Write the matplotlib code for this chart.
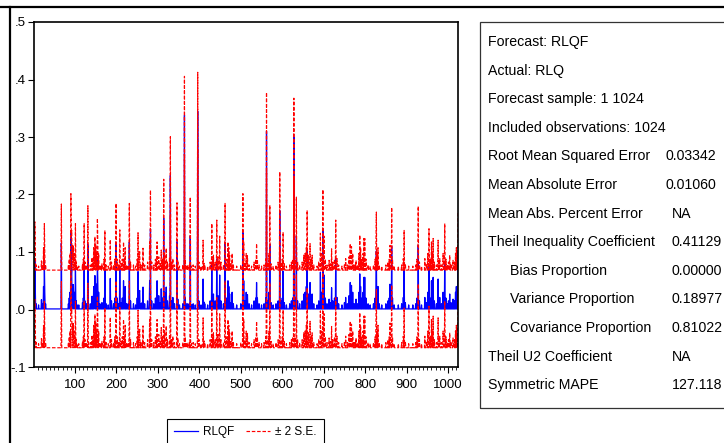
import numpy as np
import matplotlib
matplotlib.use('Agg')
import matplotlib.pyplot as plt
from matplotlib.lines import Line2D
from matplotlib.patches import Rectangle

plt.rcParams['font.family'] = ['Liberation Sans', 'DejaVu Sans']

# forecast series RLQF: flat level with spikes at these observations
n_obs = 1024
base_level = 0.001
spike_obs = [
    3, 4, 6, 12, 19, 22, 24, 26, 27, 29, 67,
    84, 86, 88, 90, 91, 92, 94, 95, 96, 98, 99, 101, 103, 105,
    109, 118, 120, 122, 124, 127, 131, 133,
    138, 141, 143, 145, 147, 148, 150, 152, 154, 155, 157, 160, 163,
    165, 170, 172, 175, 180, 185, 188, 193, 196, 199, 202, 205, 208, 211,
    214, 217, 219, 221, 224, 228, 231, 234, 241, 246, 250, 252, 255, 258,
    256, 262, 264, 268, 275, 280, 282, 285, 290, 294, 296, 298, 302, 305,
    308, 311, 314, 316, 320, 323, 328, 330, 333, 336, 340, 346, 348, 352,
    360, 364, 366, 368, 372, 376, 378, 381, 385, 390, 396, 399, 404, 409,
    411, 413, 420, 426, 430, 432, 434, 438, 442, 445, 449, 452, 458, 462,
    466, 469, 471, 473, 476, 479, 482, 490, 500, 505, 507, 510, 513, 516,
    520, 526, 532, 536, 538, 540, 544, 550, 556, 560, 562, 565, 568, 570,
    573, 578, 585, 590, 594, 597, 600, 602, 605, 610, 618, 622, 625, 628,
    631, 634, 637, 642, 648, 652, 655, 658, 660, 663, 667, 670, 672, 676,
    684, 688, 692, 695, 698, 701, 704, 708, 713, 716, 719, 722, 726, 729,
    732, 736, 744, 750, 753, 757, 761, 764, 767, 770, 773, 776, 778, 782,
    785, 787, 789, 792, 795, 797, 799, 802, 807, 812, 820, 824, 826, 827,
    829, 831, 834, 840, 850, 855, 858, 860, 864, 866, 870, 880, 888, 892,
    894, 897, 905, 915, 922, 925, 928, 931, 936, 944, 948, 951, 954, 957,
    960, 962, 964, 967, 972, 976, 978, 980, 984, 988, 992, 995, 998, 1001,
    1004, 1007, 1012, 1016, 1018, 1020, 1022, 1024,
]
spike_val = [
    0.085, 0.040, 0.010, 0.008, 0.017, 0.010, 0.040, 0.082, 0.030, 0.010, 0.116,
    0.010, 0.020, 0.030, 0.134, 0.060, 0.070, 0.043, 0.020, 0.043, 0.030, 0.012, 0.082, 0.015, 0.008,
    0.008, 0.012, 0.020, 0.082, 0.015, 0.010, 0.113, 0.010,
    0.010, 0.023, 0.015, 0.040, 0.020, 0.059, 0.045, 0.030, 0.091, 0.040, 0.030, 0.010, 0.008,
    0.012, 0.020, 0.070, 0.010, 0.008, 0.054, 0.015, 0.010, 0.020, 0.117, 0.020, 0.010, 0.071, 0.012,
    0.020, 0.050, 0.020, 0.040, 0.010, 0.010, 0.117, 0.015, 0.010, 0.008, 0.020, 0.066, 0.030, 0.010,
    0.033, 0.012, 0.039, 0.010, 0.015, 0.050, 0.140, 0.015, 0.010, 0.020, 0.018, 0.050, 0.024, 0.012,
    0.036, 0.020, 0.159, 0.030, 0.039, 0.015, 0.024, 0.233, 0.015, 0.021, 0.010, 0.118, 0.018, 0.008,
    0.010, 0.338, 0.020, 0.010, 0.010, 0.010, 0.128, 0.008, 0.010, 0.008, 0.345, 0.015, 0.008, 0.053,
    0.013, 0.010, 0.008, 0.015, 0.082, 0.020, 0.027, 0.015, 0.088, 0.024, 0.060, 0.015, 0.010, 0.117,
    0.020, 0.050, 0.040, 0.027, 0.012, 0.030, 0.010, 0.008, 0.010, 0.134, 0.050, 0.015, 0.030, 0.026,
    0.010, 0.008, 0.015, 0.020, 0.047, 0.020, 0.010, 0.008, 0.010, 0.020, 0.310, 0.015, 0.030, 0.114,
    0.012, 0.008, 0.010, 0.015, 0.172, 0.015, 0.020, 0.067, 0.012, 0.008, 0.010, 0.015, 0.020, 0.300,
    0.020, 0.128, 0.015, 0.010, 0.015, 0.027, 0.030, 0.040, 0.105, 0.027, 0.047, 0.020, 0.027, 0.010,
    0.008, 0.015, 0.065, 0.030, 0.141, 0.060, 0.020, 0.010, 0.018, 0.012, 0.038, 0.015, 0.020, 0.088,
    0.021, 0.010, 0.008, 0.012, 0.021, 0.010, 0.024, 0.047, 0.042, 0.030, 0.010, 0.010, 0.018, 0.010,
    0.030, 0.062, 0.040, 0.020, 0.030, 0.056, 0.056, 0.020, 0.010, 0.008, 0.010, 0.020, 0.042, 0.102,
    0.030, 0.040, 0.010, 0.008, 0.010, 0.015, 0.020, 0.044, 0.110, 0.020, 0.008, 0.008, 0.010, 0.021,
    0.070, 0.012, 0.008, 0.008, 0.010, 0.020, 0.112, 0.015, 0.008, 0.021, 0.012, 0.030, 0.073, 0.020,
    0.050, 0.030, 0.056, 0.015, 0.010, 0.053, 0.020, 0.021, 0.010, 0.030, 0.082, 0.020, 0.010, 0.015,
    0.027, 0.012, 0.018, 0.015, 0.030, 0.040, 0.020, 0.100,
]
two_se = 0.0675  # 2 x forecast standard error

stat_labels = [
    'Forecast: RLQF', 'Actual: RLQ', 'Forecast sample: 1 1024',
    'Included observations: 1024', 'Root Mean Squared Error',
    'Mean Absolute Error', 'Mean Abs. Percent Error',
    'Theil Inequality Coefficient', 'Bias Proportion',
    'Variance Proportion', 'Covariance Proportion',
    'Theil U2 Coefficient', 'Symmetric MAPE',
]
stat_values = ['', '', '', '', '0.03342', '0.01060', 'NA', '0.41129',
               '0.00000', '0.18977', '0.81022', 'NA', '127.118']
stat_indent = [False] * 8 + [True] * 3 + [False] * 2

obs = np.arange(1, n_obs + 1)
rlqf = np.full(n_obs, base_level)
rlqf[np.array(spike_obs) - 1] = spike_val
upper = rlqf + two_se
lower = rlqf - two_se

W, H = 724, 443
fig = plt.figure(figsize=(W / 100, H / 100), dpi=100)


def fx(x):
    return x / W


def fy(y):
    return 1 - y / H


ax = fig.add_axes([fx(34), fy(367), fx(458) - fx(34), fy(22) - fy(367)])
l1, = ax.plot(obs, rlqf, color='#0000ff', lw=0.9)
l2, = ax.plot(obs, upper, color='#ff0000', lw=0.85, linestyle=(0, (3, 1.5)))
ax.plot(obs, lower, color='#ff0000', lw=0.85, linestyle=(0, (3, 1.5)))

ax.set_xlim(1, 1024)
ax.set_ylim(-0.1, 0.5)
ax.set_xticks(np.arange(100, 1001, 100))
ax.set_xticks(np.arange(10, 1021, 10), minor=True)
ax.set_yticks(np.arange(-0.1, 0.51, 0.1))
ax.set_yticklabels([('%.1f' % v).replace('0.', '.') for v in np.arange(-0.1, 0.51, 0.1)])
ax.tick_params(axis='both', which='major', direction='out', length=4, width=0.8,
               labelsize=9.5, pad=2)
ax.tick_params(axis='x', which='major', pad=5)
ax.tick_params(axis='x', which='minor', direction='out', length=2.5, width=0.6)
ax.tick_params(axis='y', which='minor', left=False)
for s in ax.spines.values():
    s.set_linewidth(1.2)

leg = fig.legend([l1, l2], ['RLQF', '\u00b1 2 S.E.'], loc='upper left',
                 bbox_to_anchor=(fx(167), fy(419)), ncol=2, fontsize=8.5,
                 frameon=True, fancybox=False, edgecolor='black', framealpha=1,
                 borderaxespad=0, handlelength=2.0, handletextpad=0.45,
                 columnspacing=1.0, borderpad=0.6)
leg.get_frame().set_linewidth(0.8)

# statistics box
fig.add_artist(Rectangle((fx(480), fy(408)), fx(760) - fx(480), fy(22) - fy(408),
                         transform=fig.transFigure, fill=False,
                         edgecolor='#333333', lw=0.9))
for i, (lab, val, ind) in enumerate(zip(stat_labels, stat_values, stat_indent)):
    yc = 42 + i * 28.6
    fig.text(fx(510 if ind else 488), fy(yc), lab, fontsize=10.2, va='center')
    if val:
        vx = 665 if i in (4, 5) else 672
        fig.text(fx(vx), fy(yc), val, fontsize=10.2, va='center')

# window frame edges
fig.add_artist(Line2D([0, 1], [fy(7), fy(7)], transform=fig.transFigure,
                      color='black', lw=1.6))
fig.add_artist(Line2D([fx(10), fx(10)], [0, fy(7)], transform=fig.transFigure,
                      color='black', lw=1.6))

fig.savefig('out.png', dpi=100)
